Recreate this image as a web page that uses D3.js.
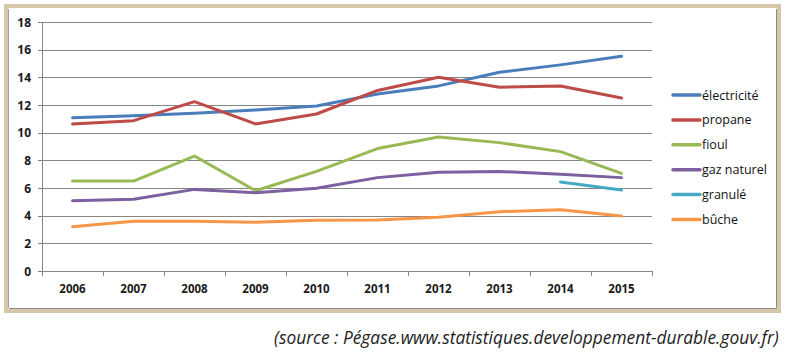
<!DOCTYPE html>
<html><head><meta charset="utf-8">
<script src="https://cdn.jsdelivr.net/npm/d3@7"></script>
<style>body{margin:0;background:#fff}svg{display:block}</style>
</head><body>
<svg id="c" width="790" height="358"></svg>
<script>
const years = ["2006","2007","2008","2009","2010","2011","2012","2013","2014","2015"];
const yTicks = [0,2,4,6,8,10,12,14,16,18];
const electricite = [11.08,11.23,11.4,11.64,11.93,12.8,13.38,14.37,14.9,15.52];
const propane = [10.63,10.87,12.24,10.63,11.35,13.05,14.0,13.28,13.38,12.5];
const fioul = [6.5,6.5,8.31,5.8,7.2,8.85,9.69,9.28,8.63,7.06];
const gazNaturel = [5.08,5.18,5.9,5.66,5.98,6.75,7.13,7.2,6.99,6.75];
const granule = [null,null,null,null,null,null,null,null,6.43,5.86];
const buche = [3.2,3.59,3.59,3.52,3.66,3.68,3.88,4.29,4.43,3.98];
const seriesNames = ["électricité","propane","fioul","gaz naturel","granulé","bûche"];
const seriesColors = ["#4a7ebb","#be4b48","#98b954","#7d60a0","#46aac5","#f79646"];
const seriesData = [electricite,propane,fioul,gazNaturel,granule,buche];

const svg = d3.select("#c");
// frame
svg.append("rect").attr("x",6).attr("y",6).attr("width",773).attr("height",305)
  .attr("fill","#fff").attr("stroke","#d5c8a9").attr("stroke-width",4);
svg.append("path").attr("d","M9,308.5H776.5V9").attr("fill","none").attr("stroke","#8c8c8c").attr("stroke-width",1);
svg.append("path").attr("d","M8.5,9V308").attr("fill","none").attr("stroke","#a0a0a0").attr("stroke-width",1);

const x = d3.scaleBand().domain(years).range([42,652]);
const y = d3.scaleLinear().domain([0,18]).range([271,22]);
const font = "'Open Sans', 'Noto Sans', sans-serif";

// grid
svg.append("g").selectAll("line").data(yTicks).join("line")
  .attr("x1",38).attr("x2",652).attr("y1",d=>Math.round(y(d))+0.5).attr("y2",d=>Math.round(y(d))+0.5)
  .attr("stroke","#868686").attr("stroke-width",1);
// y axis line
svg.append("line").attr("x1",42.5).attr("x2",42.5).attr("y1",22).attr("y2",271.5).attr("stroke","#868686");
// y labels
svg.append("g").selectAll("text").data(yTicks).join("text")
  .attr("x",31).attr("y",d=>y(d)+4.5).attr("text-anchor","end")
  .attr("font-family",font).attr("font-weight","bold").attr("font-size",12).attr("fill","#1a1a1a")
  .text(d=>d);
// x ticks
const bounds = years.map(d=>x(d)).concat([x.range()[1]]);
svg.append("g").selectAll("line").data(bounds).join("line")
  .attr("x1",d=>Math.round(d)+0.5).attr("x2",d=>Math.round(d)+0.5).attr("y1",271).attr("y2",276)
  .attr("stroke","#868686");
svg.append("g").selectAll("text").data(years).join("text")
  .attr("x",d=>x(d)+x.bandwidth()/2).attr("y",293).attr("text-anchor","middle")
  .attr("font-family",font).attr("font-weight","bold").attr("font-size",11.5).attr("fill","#1a1a1a")
  .text(d=>d);

// lines
const line = d3.line().defined(d=>d!=null)
  .x((d,i)=>x(years[i])+x.bandwidth()/2).y(d=>y(d));
seriesData.forEach((s,k)=>{
  svg.append("path").datum(s).attr("d",line).attr("fill","none")
    .attr("stroke",seriesColors[k]).attr("stroke-width",3).attr("stroke-linejoin","round").attr("stroke-linecap","round");
});

// legend
const lg = svg.append("g");
seriesNames.forEach((n,k)=>{
  const yy = 95 + k*24.9;
  lg.append("line").attr("x1",673).attr("x2",700).attr("y1",yy).attr("y2",yy)
    .attr("stroke",seriesColors[k]).attr("stroke-width",3.5).attr("stroke-linecap","round");
  lg.append("text").attr("x",702).attr("y",yy+4.5).attr("font-family",font).attr("font-size",12.5)
    .attr("fill","#111").text(n);
});

// source
const src = svg.append("text").attr("x",0).attr("y",0)
  .attr("font-family","'Open Sans', sans-serif").attr("font-style","italic")
  .attr("font-size",19).attr("fill","#222")
  .text("(source : Pégase.www.statistiques.developpement-durable.gouv.fr)");
const w = src.node().getComputedTextLength();
src.attr("transform",`translate(274,344) scale(${505/w},1)`);
</script>
</body></html>
